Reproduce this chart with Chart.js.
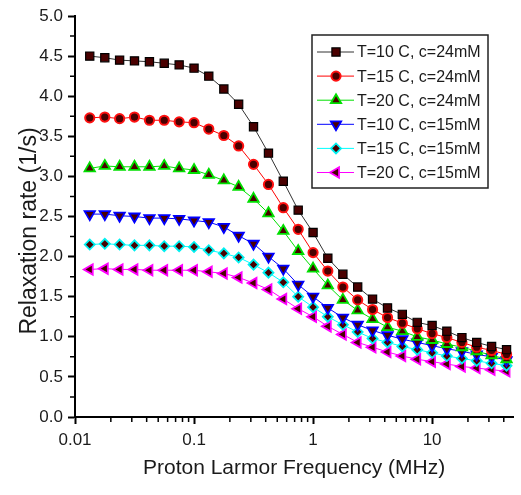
<!DOCTYPE html>
<html>
<head>
<meta charset="utf-8">
<title>Relaxation rate vs proton Larmor frequency</title>
<script src="https://cdn.jsdelivr.net/npm/chart.js@4.4.1/dist/chart.umd.min.js"></script>
<style>
    html, body { margin: 0; padding: 0; background: #fff; }
    canvas { display: block; }
</style>
</head>
<body>
<canvas id="chart" width="521" height="495" role="img" aria-label="Relaxation rate versus proton Larmor frequency"></canvas>
<script>
'use strict';

// 測定周波数 (MHz)
const freqs = [
    0.0133, 0.0178, 0.0237, 0.0316, 0.0422, 0.0562, 0.075, 0.1,
    0.133, 0.178, 0.237, 0.316, 0.422, 0.562, 0.75, 1,
    1.33, 1.78, 2.37, 3.16, 4.22, 5.62, 7.5, 10,
    13.3, 17.8, 23.7, 31.6, 42.2,
];

// 緩和速度 (1/s)
const t10c24 = [
    4.50, 4.48, 4.45, 4.44, 4.43, 4.41, 4.39, 4.35,
    4.25, 4.09, 3.90, 3.62, 3.29, 2.94, 2.58, 2.30,
    1.98, 1.78, 1.62, 1.47, 1.36, 1.28, 1.18, 1.14,
    1.07, 0.99, 0.93, 0.88, 0.84,
];
const t15c24 = [
    3.73, 3.74, 3.72, 3.74, 3.70, 3.70, 3.68, 3.67,
    3.59, 3.51, 3.38, 3.15, 2.90, 2.61, 2.34, 2.05,
    1.82, 1.62, 1.46, 1.34, 1.24, 1.17, 1.10, 1.04,
    0.99, 0.93, 0.87, 0.83, 0.78,
];
const t20c24 = [
    3.10, 3.13, 3.12, 3.12, 3.12, 3.13, 3.10, 3.08,
    3.02, 2.95, 2.87, 2.72, 2.54, 2.32, 2.07, 1.85,
    1.64, 1.46, 1.33, 1.22, 1.12, 1.07, 1.00, 0.96,
    0.91, 0.87, 0.82, 0.77, 0.72,
];
const t10c15 = [
    2.53, 2.53, 2.51, 2.50, 2.48, 2.48, 2.47, 2.45,
    2.43, 2.37, 2.26, 2.16, 2.00, 1.85, 1.65, 1.50,
    1.36, 1.24, 1.15, 1.08, 1.02, 0.97, 0.93, 0.89,
    0.85, 0.82, 0.78, 0.75, 0.71,
];
const t15c15 = [
    2.15, 2.16, 2.15, 2.14, 2.14, 2.13, 2.13, 2.12,
    2.08, 2.04, 1.99, 1.90, 1.80, 1.68, 1.50, 1.37,
    1.25, 1.15, 1.06, 0.98, 0.93, 0.88, 0.84, 0.80,
    0.76, 0.73, 0.70, 0.67, 0.64,
];
const t20c15 = [
    1.84, 1.85, 1.84, 1.84, 1.83, 1.83, 1.83, 1.83,
    1.81, 1.79, 1.74, 1.67, 1.59, 1.47, 1.35, 1.25,
    1.13, 1.03, 0.93, 0.87, 0.81, 0.76, 0.72, 0.69,
    0.66, 0.63, 0.61, 0.59, 0.57,
];

const seriesLabels = [
    'T=10 C, c=24mM', 'T=15 C, c=24mM', 'T=20 C, c=24mM',
    'T=10 C, c=15mM', 'T=15 C, c=15mM', 'T=20 C, c=15mM',
];
const series = [ t10c24, t15c24, t20c24, t10c15, t15c15, t20c15 ];

const xTicks = [ 0.01, 0.1, 1, 10 ];
const xTickLabels = [ '0.01', '0.1', '1', '10' ];
const xMinor = [ 2, 3, 4, 5, 6, 7, 8, 9 ];

const xTitle = 'Proton Larmor Frequency (MHz)';
const yTitle = 'Relaxation rate (1/s)';

// 系列ごとの見た目
const styles = [
    { line: '#333333', edge: '#000000', shape: 'rect',     rotation: 0,   radius: 5.8, width: 1.2 },
    { line: '#ff0000', edge: '#ff1010', shape: 'circle',   rotation: 0,   radius: 4.6, width: 2 },
    { line: '#00e000', edge: '#00e000', shape: 'triangle', rotation: 0,   radius: 6,   width: 1.8 },
    { line: '#0000ff', edge: '#0000ff', shape: 'triangle', rotation: 180, radius: 6,   width: 1.8 },
    { line: '#00ffff', edge: '#00f0f0', shape: 'rectRot',  rotation: 0,   radius: 5,   width: 1.8 },
    { line: '#ff00ff', edge: '#ff00ff', shape: 'triangle', rotation: 270, radius: 6,   width: 1.8 },
];
const markerFill = '#4a0000';
const font = 'Liberation Sans, Arial, sans-serif';

/**
 * 軸の小目盛を描く
 */
const minorTicks = {
    id: 'minorTicks',
    afterDraw(chart) {
        const { ctx, scales: { x, y } } = chart;
        ctx.save();
        ctx.strokeStyle = '#000';
        ctx.lineWidth = 1.5;
        ctx.beginPath();
        for (const decade of xTicks) {
            for (const m of xMinor) {
                const v = decade * m;
                if (v > x.max)
                    break;
                const px = x.getPixelForValue(v);
                ctx.moveTo(px, x.top);
                ctx.lineTo(px, x.top + 5);
            }
        }
        for (let v = 0.25; v < y.max; v += 0.5) {
            const py = y.getPixelForValue(v);
            ctx.moveTo(y.right, py);
            ctx.lineTo(y.right - 5, py);
        }
        ctx.stroke();
        ctx.restore();
    },
};

/**
 * 軸タイトルを描く
 */
const axisTitles = {
    id: 'axisTitles',
    afterDraw(chart) {
        const { ctx, chartArea } = chart;
        ctx.save();
        ctx.fillStyle = '#1a1a1a';
        ctx.textAlign = 'center';
        ctx.textBaseline = 'middle';
        ctx.font = `21px ${font}`;
        ctx.fillText(xTitle, (chartArea.left + chartArea.right) / 2, 468);
        ctx.translate(36, 231);
        ctx.rotate(-Math.PI / 2);
        ctx.textBaseline = 'alphabetic';
        ctx.font = `23px ${font}`;
        ctx.fillText(yTitle, 0, 0);
        ctx.restore();
    },
};

/**
 * グラフ内の凡例を描く
 */
const boxLegend = {
    id: 'boxLegend',
    afterDraw(chart) {
        const { ctx, chartArea } = chart;
        const x0 = chartArea.left + 237;
        const y0 = chartArea.top + 19;
        const w = 176, h = 153, step = 24.1;
        ctx.save();
        ctx.fillStyle = '#fff';
        ctx.fillRect(x0, y0, w, h);
        ctx.strokeStyle = '#222';
        ctx.lineWidth = 1.5;
        ctx.strokeRect(x0, y0, w, h);
        ctx.font = `16px ${font}`;
        ctx.textAlign = 'left';
        ctx.textBaseline = 'middle';
        chart.data.datasets.forEach((ds, i) => {
            const s = styles[i];
            const yy = y0 + 17 + i * step;
            ctx.strokeStyle = s.line;
            ctx.lineWidth = 1;
            ctx.beginPath();
            ctx.moveTo(x0 + 5, yy);
            ctx.lineTo(x0 + 42, yy);
            ctx.stroke();
            ctx.fillStyle = markerFill;
            ctx.strokeStyle = s.edge;
            ctx.lineWidth = s.width;
            Chart.helpers.drawPoint(ctx, {
                pointStyle: s.shape,
                rotation: s.rotation,
                radius: s.radius,
                borderWidth: s.width,
            }, x0 + 24, yy);
            ctx.fillStyle = '#1a1a1a';
            ctx.fillText(ds.label, x0 + 45, yy + 1);
        });
        ctx.restore();
    },
};

const datasets = series.map((values, i) => {
    const s = styles[i];
    return {
        label: seriesLabels[i],
        data: values.map((y, j) => ({ x: freqs[j], y })),
        borderColor: s.line,
        borderWidth: 1,
        pointStyle: s.shape,
        pointRotation: s.rotation,
        pointRadius: s.radius,
        pointBorderWidth: s.width,
        pointBorderColor: s.edge,
        pointBackgroundColor: markerFill,
        tension: 0,
    };
});

new Chart(document.getElementById('chart'), {
    type: 'scatter',
    data: { datasets },
    plugins: [ minorTicks, axisTitles, boxLegend ],
    options: {
        responsive: false,
        animation: false,
        showLine: true,
        layout: { padding: { top: 16, right: 1, left: 0, bottom: 0 } },
        plugins: {
            legend: { display: false },
            tooltip: { enabled: false },
        },
        scales: {
            x: {
                type: 'logarithmic',
                min: 0.01,
                max: 48,
                afterBuildTicks: scale => {
                    scale.ticks = xTicks.map(value => ({ value }));
                },
                afterFit: scale => { scale.height = 78; },
                grid: {
                    drawOnChartArea: false,
                    tickLength: 7,
                    tickWidth: 2,
                    tickColor: '#000',
                },
                border: { color: '#000', width: 2 },
                ticks: {
                    callback: (value, index) => xTickLabels[index],
                    autoSkip: false,
                    maxRotation: 0,
                    padding: 6,
                    color: '#1a1a1a',
                    font: { family: font, size: 17 },
                },
            },
            y: {
                min: 0,
                max: 5,
                afterFit: scale => { scale.width = 75; },
                grid: {
                    drawOnChartArea: false,
                    tickLength: 7,
                    tickWidth: 2,
                    tickColor: '#000',
                },
                border: { color: '#000', width: 2 },
                ticks: {
                    stepSize: 0.5,
                    callback: value => value.toFixed(1),
                    padding: 5,
                    color: '#1a1a1a',
                    font: { family: font, size: 17 },
                },
            },
        },
    },
});
/* ex: se et ts=4 : */
</script>
</body>
</html>
